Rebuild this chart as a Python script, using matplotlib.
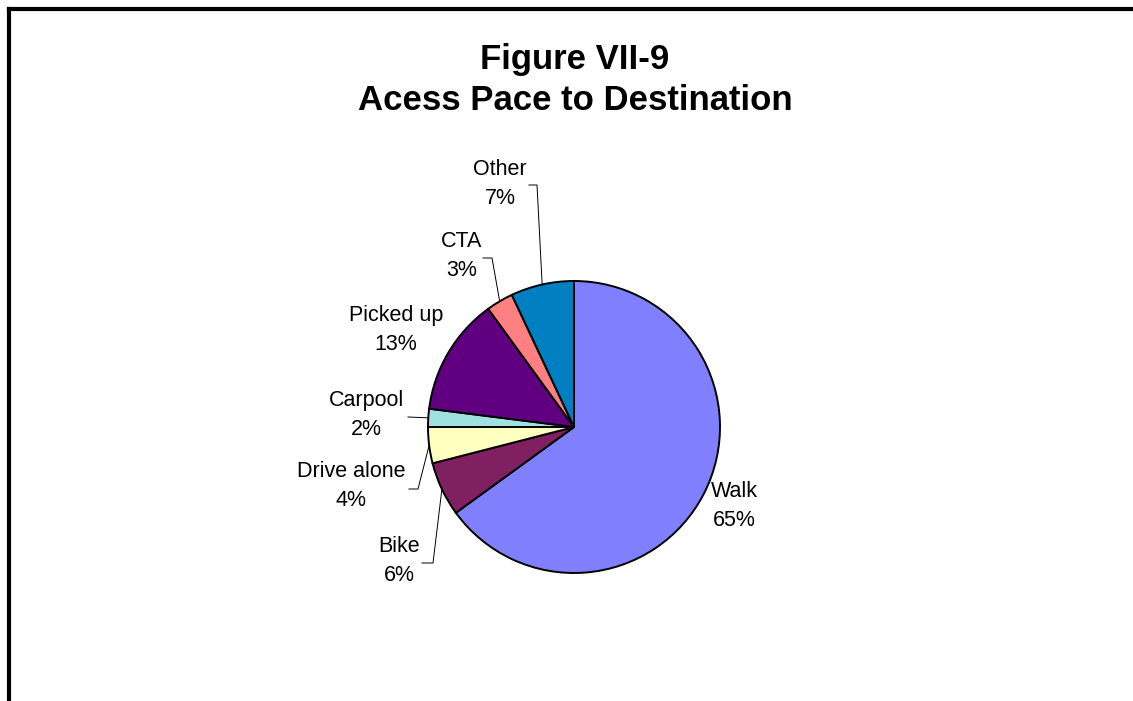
import numpy as np
import matplotlib
matplotlib.use("Agg")
import matplotlib.pyplot as plt
from matplotlib.lines import Line2D

plt.rcParams['font.family'] = ['Liberation Sans', 'DejaVu Sans']

# data, clockwise from 12 o'clock
labels = ["Walk", "Bike", "Drive alone", "Carpool", "Picked up", "CTA", "Other"]
shares = [65, 6, 4, 2, 13, 3, 7]
colors = ["#8080FF", "#802060", "#FFFFC0", "#A0E0E0", "#600080", "#FF8080", "#0080C0"]
title_lines = ["Figure VII-9", "Acess Pace to Destination"]

# label layout in pixels (text centre) and leader elbows (None = no leader)
W, H = 1133, 701
cx, cy, r = 574, 427, 146
label_pos = [(734, 506), (399, 561), (351, 486), (366, 415), (396, 330), (462, 256), (500, 184)]
elbows = [None, [(422, 563), (433, 563)], [(409, 489), (418, 489)], [(408, 417)],
          None, [(483, 258), (492, 258)], [(529, 185), (537, 185)]]

fig = plt.figure(figsize=(W / 100, H / 100), dpi=100)
ax = fig.add_axes([(cx - r) / W, (H - cy - r) / H, 2 * r / W, 2 * r / H])

wedges, _ = ax.pie(shares, colors=colors, startangle=90, counterclock=False,
                   radius=1.0, wedgeprops=dict(edgecolor="black", linewidth=1.4))
ax.set_xlim(-1, 1)
ax.set_ylim(-1, 1)
ax.set_aspect("equal")
ax.axis("off")


def to_data(px, py):
    return (px - cx) / r, (cy - py) / r


total = sum(shares)
for i, (lab, val) in enumerate(zip(labels, shares)):
    tx, ty = to_data(*label_pos[i])
    ax.text(tx, ty, f"{lab}\n{round(100 * val / total)}%", ha="center", va="center",
            fontsize=15.5, linespacing=1.45, clip_on=False)
    if elbows[i] is not None:
        w = wedges[i]
        mid = np.deg2rad((w.theta1 + w.theta2) / 2)
        pts = [to_data(*p) for p in elbows[i]] + [(np.cos(mid), np.sin(mid))]
        xs, ys = zip(*pts)
        ax.plot(xs, ys, color="black", linewidth=0.7, clip_on=False)

# title, two lines
for line, base in zip(title_lines, [69, 110]):
    fig.text(575 / W, 1 - base / H, line, ha="center", va="baseline",
             fontsize=25, fontweight="bold")

# outer frame (top and left edges visible)
fig.add_artist(Line2D([9 / W, 1], [1 - 9 / H, 1 - 9 / H], color="black", linewidth=3,
                      transform=fig.transFigure))
fig.add_artist(Line2D([9 / W, 9 / W], [0, 1 - 9 / H], color="black", linewidth=3,
                      transform=fig.transFigure))

fig.savefig("out.png", dpi=100)
